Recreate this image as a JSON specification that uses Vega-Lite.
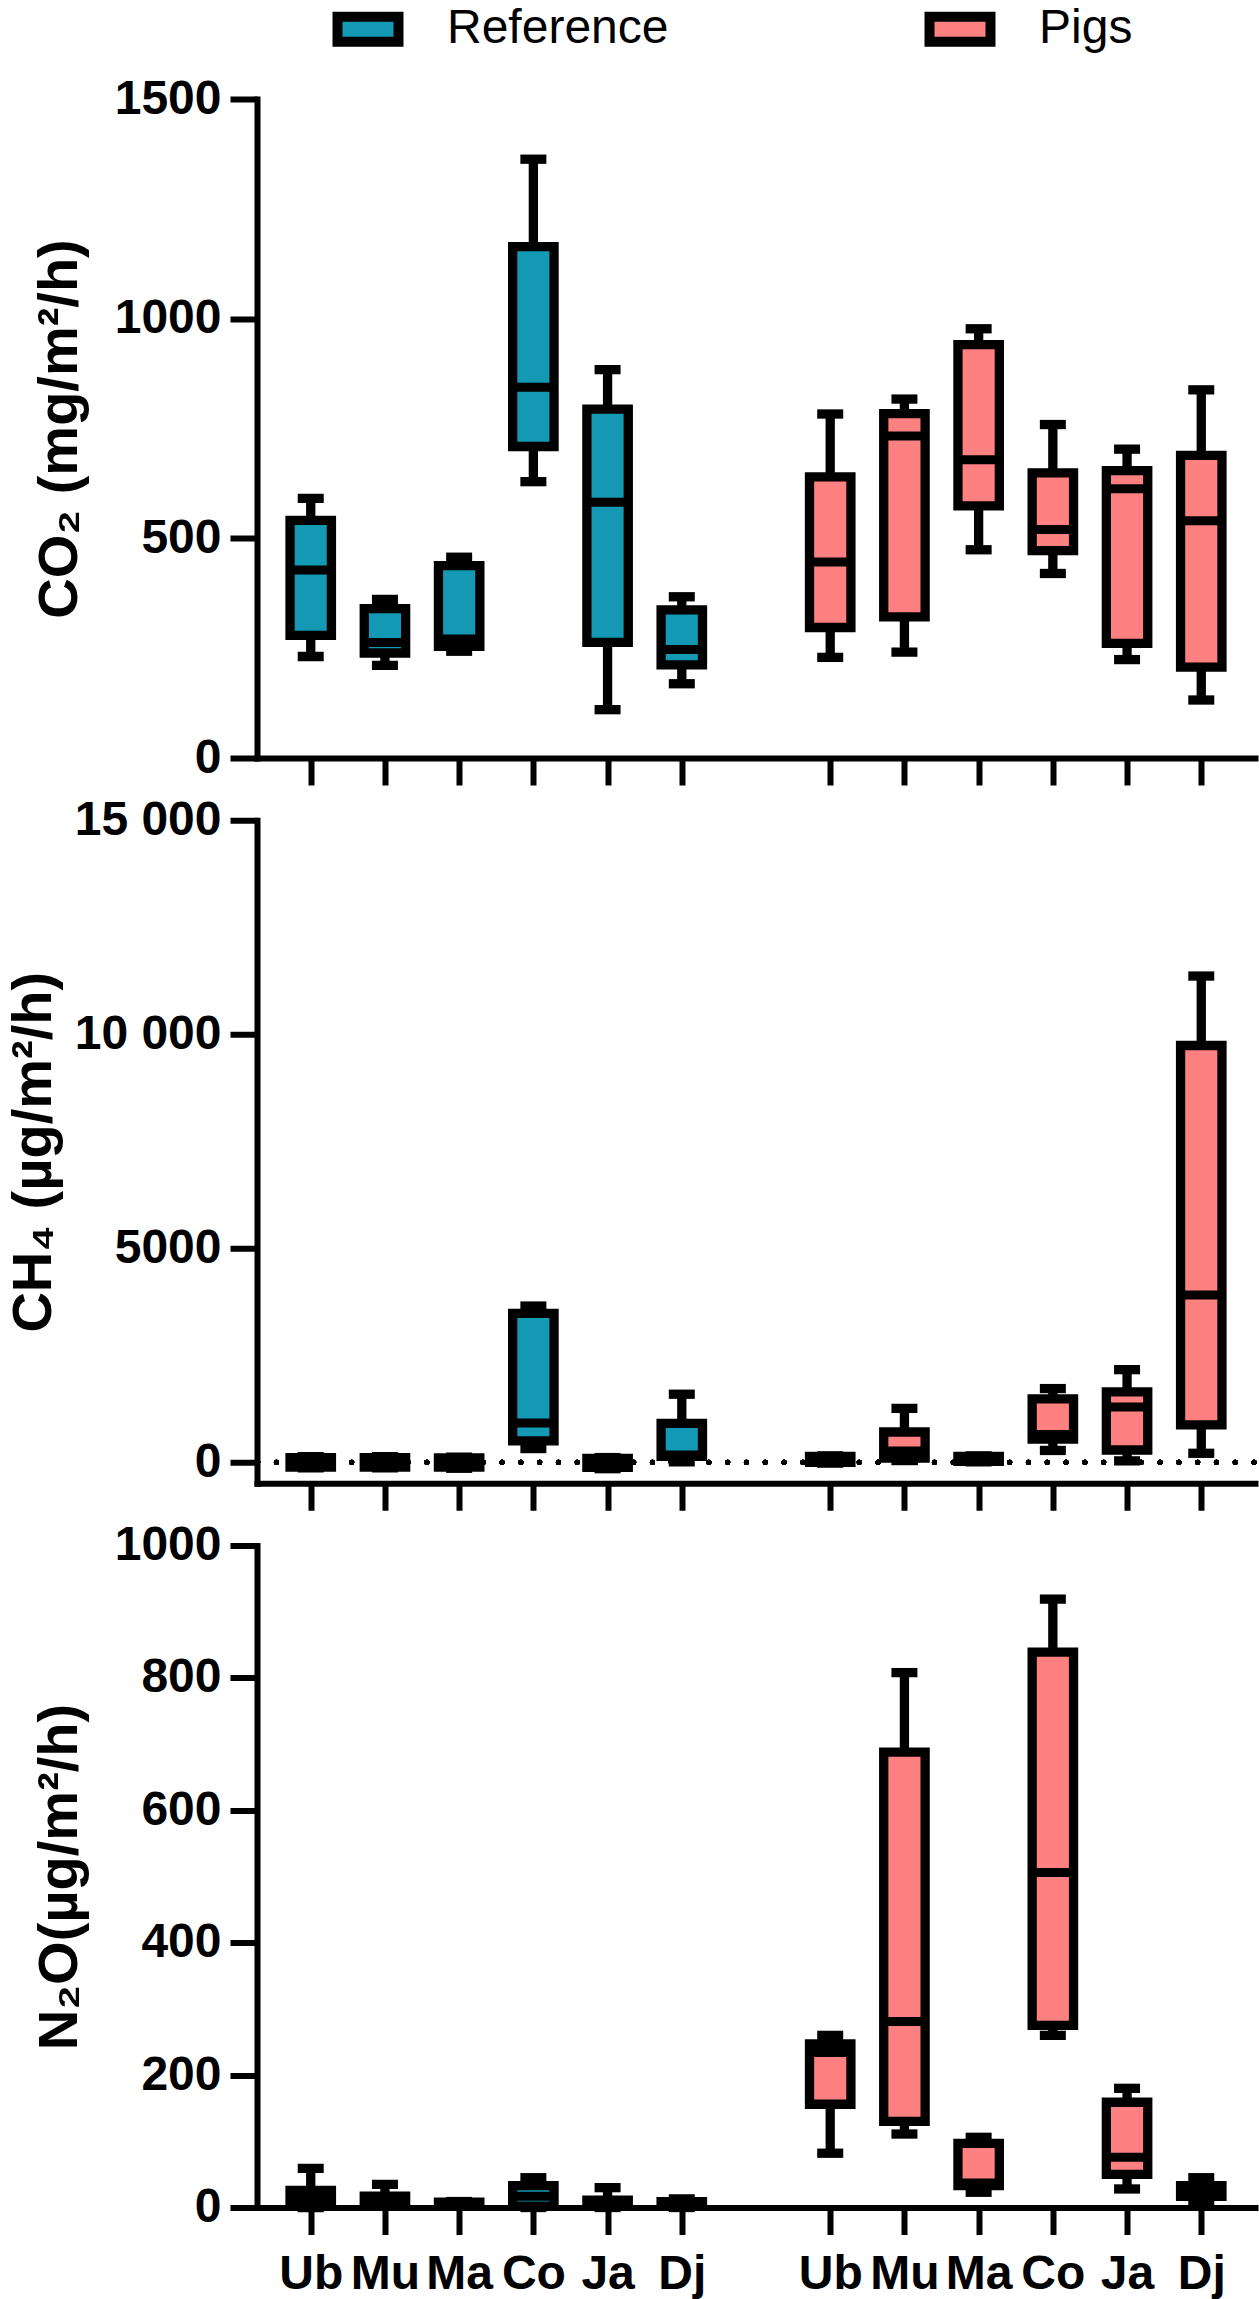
{
  "$schema": "https://vega.github.io/schema/vega-lite/v6.json",
  "padding": {"left": 5, "top": 5, "right": 2, "bottom": 5},
  "data": {
    "values": [
      {"gas": "CO2", "grp": "Reference", "site": "Ub", "key": "R-Ub", "lo": 231, "q1": 279, "med": 428, "q3": 541, "hi": 591},
      {"gas": "CO2", "grp": "Reference", "site": "Mu", "key": "R-Mu", "lo": 211, "q1": 239, "med": 263, "q3": 340, "hi": 361},
      {"gas": "CO2", "grp": "Reference", "site": "Ma", "key": "R-Ma", "lo": 243, "q1": 254, "med": 271, "q3": 438, "hi": 457},
      {"gas": "CO2", "grp": "Reference", "site": "Co", "key": "R-Co", "lo": 629, "q1": 709, "med": 844, "q3": 1164, "hi": 1363},
      {"gas": "CO2", "grp": "Reference", "site": "Ja", "key": "R-Ja", "lo": 110, "q1": 263, "med": 582, "q3": 794, "hi": 884},
      {"gas": "CO2", "grp": "Reference", "site": "Dj", "key": "R-Dj", "lo": 169, "q1": 212, "med": 247, "q3": 337, "hi": 367},
      {"gas": "CO2", "grp": "Pigs", "site": "Ub", "key": "P-Ub", "lo": 229, "q1": 297, "med": 446, "q3": 640, "hi": 783},
      {"gas": "CO2", "grp": "Pigs", "site": "Mu", "key": "P-Mu", "lo": 241, "q1": 321, "med": 733, "q3": 784, "hi": 817},
      {"gas": "CO2", "grp": "Pigs", "site": "Ma", "key": "P-Ma", "lo": 474, "q1": 574, "med": 679, "q3": 941, "hi": 977},
      {"gas": "CO2", "grp": "Pigs", "site": "Co", "key": "P-Co", "lo": 420, "q1": 472, "med": 520, "q3": 649, "hi": 759},
      {"gas": "CO2", "grp": "Pigs", "site": "Ja", "key": "P-Ja", "lo": 224, "q1": 261, "med": 613, "q3": 654, "hi": 703},
      {"gas": "CO2", "grp": "Pigs", "site": "Dj", "key": "P-Dj", "lo": 132, "q1": 207, "med": 540, "q3": 689, "hi": 838},
      {"gas": "CH4", "grp": "Reference", "site": "Ub", "key": "R-Ub", "lo": -130, "q1": -110, "med": 0, "q3": 110, "hi": 130},
      {"gas": "CH4", "grp": "Reference", "site": "Mu", "key": "R-Mu", "lo": -130, "q1": -110, "med": 0, "q3": 110, "hi": 130},
      {"gas": "CH4", "grp": "Reference", "site": "Ma", "key": "R-Ma", "lo": -140, "q1": -110, "med": -10, "q3": 100, "hi": 120},
      {"gas": "CH4", "grp": "Reference", "site": "Co", "key": "R-Co", "lo": 320, "q1": 500, "med": 920, "q3": 3480, "hi": 3650},
      {"gas": "CH4", "grp": "Reference", "site": "Ja", "key": "R-Ja", "lo": -150, "q1": -120, "med": -20, "q3": 90, "hi": 110},
      {"gas": "CH4", "grp": "Reference", "site": "Dj", "key": "R-Dj", "lo": 10, "q1": 140, "med": 170, "q3": 910, "hi": 1590},
      {"gas": "CH4", "grp": "Pigs", "site": "Ub", "key": "P-Ub", "lo": -20, "q1": 0, "med": 60, "q3": 140, "hi": 150},
      {"gas": "CH4", "grp": "Pigs", "site": "Mu", "key": "P-Mu", "lo": 40, "q1": 99, "med": 265, "q3": 707, "hi": 1259},
      {"gas": "CH4", "grp": "Pigs", "site": "Ma", "key": "P-Ma", "lo": 10, "q1": 20, "med": 80, "q3": 135, "hi": 150},
      {"gas": "CH4", "grp": "Pigs", "site": "Co", "key": "P-Co", "lo": 276, "q1": 541, "med": 651, "q3": 1479, "hi": 1722},
      {"gas": "CH4", "grp": "Pigs", "site": "Ja", "key": "P-Ja", "lo": 33, "q1": 287, "med": 1292, "q3": 1645, "hi": 2164},
      {"gas": "CH4", "grp": "Pigs", "site": "Dj", "key": "P-Dj", "lo": 210, "q1": 872, "med": 3908, "q3": 9737, "hi": 11360},
      {"gas": "N2O", "grp": "Reference", "site": "Ub", "key": "R-Ub", "lo": 0, "q1": 9, "med": 15, "q3": 26, "hi": 59},
      {"gas": "N2O", "grp": "Reference", "site": "Mu", "key": "R-Mu", "lo": 2, "q1": 5, "med": 10, "q3": 17, "hi": 35},
      {"gas": "N2O", "grp": "Reference", "site": "Ma", "key": "R-Ma", "lo": 5, "q1": 6, "med": 7, "q3": 8, "hi": 9},
      {"gas": "N2O", "grp": "Reference", "site": "Co", "key": "R-Co", "lo": 0, "q1": 2, "med": 17, "q3": 33, "hi": 45},
      {"gas": "N2O", "grp": "Reference", "site": "Ja", "key": "R-Ja", "lo": 0, "q1": 2, "med": 5, "q3": 11, "hi": 30},
      {"gas": "N2O", "grp": "Reference", "site": "Dj", "key": "R-Dj", "lo": 0, "q1": 3, "med": 5, "q3": 9, "hi": 13},
      {"gas": "N2O", "grp": "Pigs", "site": "Ub", "key": "P-Ub", "lo": 82, "q1": 156, "med": 234, "q3": 247, "hi": 260},
      {"gas": "N2O", "grp": "Pigs", "site": "Mu", "key": "P-Mu", "lo": 111, "q1": 130, "med": 281, "q3": 688, "hi": 808},
      {"gas": "N2O", "grp": "Pigs", "site": "Ma", "key": "P-Ma", "lo": 23, "q1": 33, "med": 37, "q3": 97, "hi": 106},
      {"gas": "N2O", "grp": "Pigs", "site": "Co", "key": "P-Co", "lo": 260, "q1": 275, "med": 506, "q3": 839, "hi": 919},
      {"gas": "N2O", "grp": "Pigs", "site": "Ja", "key": "P-Ja", "lo": 28, "q1": 50, "med": 76, "q3": 159, "hi": 180},
      {"gas": "N2O", "grp": "Pigs", "site": "Dj", "key": "P-Dj", "lo": 8, "q1": 17, "med": 25, "q3": 33, "hi": 45}
    ]
  },
  "config": {
    "view": {"stroke": null},
    "font": "Liberation Sans",
    "axis": {
      "domainColor": "#000", "domainWidth": 6, "domainCap": "square",
      "tickColor": "#000", "tickWidth": 6, "tickSize": 27,
      "labelColor": "#000", "labelFont": "Liberation Sans", "labelFontSize": 48, "labelFontWeight": "bold", "labelPadding": 9,
      "titleColor": "#000", "titleFont": "Liberation Sans", "titleFontSize": 56, "titleFontWeight": "bold",
      "grid": false
    },
    "axisX": {"labelAngle": 0, "labelPadding": 16, "labelOverlap": false},
    "tick": {"opacity": 1},
    "bar": {"opacity": 1}
  },
  "spacing": 62.25,
  "bounds": "flush",
  "vconcat": [
    {
      "width": 998,
      "height": 659,
      "transform": [{"filter": "datum.gas === 'CO2'"}],
      "encoding": {
        "x": {
          "field": "key", "type": "nominal",
          "scale": {"type": "point", "padding": 0.724, "domain": ["R-Ub", "R-Mu", "R-Ma", "R-Co", "R-Ja", "R-Dj", "gap", "P-Ub", "P-Mu", "P-Ma", "P-Co", "P-Ja", "P-Dj"]},
          "axis": {"title": null, "labels": false, "values": ["R-Ub", "R-Mu", "R-Ma", "R-Co", "R-Ja", "R-Dj", "P-Ub", "P-Mu", "P-Ma", "P-Co", "P-Ja", "P-Dj"]}
        }
      },
      "layer": [
        {
          "mark": {"type": "rule", "color": "black", "strokeWidth": 9.3},
          "encoding": {
            "y": {"field": "lo", "type": "quantitative", "scale": {"domain": [0, 1500], "nice": false, "zero": false},
                  "axis": {"values": [0, 500, 1000, 1500], "format": "d", "title": "CO₂ (mg/m²/h)", "titlePadding": 26}},
            "y2": {"field": "hi"}
          }
        },
        {"mark": {"type": "tick", "color": "black", "size": 26, "thickness": 9.3}, "encoding": {"y": {"field": "lo", "type": "quantitative"}}},
        {"mark": {"type": "tick", "color": "black", "size": 26, "thickness": 9.3}, "encoding": {"y": {"field": "hi", "type": "quantitative"}}},
        {
          "mark": {"type": "bar", "size": 41.4, "stroke": "black", "strokeWidth": 9.3},
          "encoding": {
            "y": {"field": "q1", "type": "quantitative"},
            "y2": {"field": "q3"},
            "color": {
              "field": "grp", "type": "nominal",
              "scale": {"domain": ["Reference", "Pigs"], "range": ["#1399B3", "#FF8080"]},
              "legend": {
                "title": null, "orient": "none", "legendX": 87, "legendY": -94, "direction": "horizontal",
                "symbolType": "M-2,-0.82H2V0.82H-2Z", "symbolSize": 930, "symbolStrokeColor": "black", "symbolStrokeWidth": 10, "symbolOpacity": 1,
                "labelFont": "Liberation Sans", "labelFontSize": 48, "labelColor": "black", "labelLimit": 400, "labelOffset": 55,
                "columnPadding": 240
              }
            }
          }
        },
        {"mark": {"type": "tick", "color": "black", "size": 41.4, "thickness": 9}, "encoding": {"y": {"field": "med", "type": "quantitative"}}}
      ]
    },
    {
      "width": 998,
      "height": 663,
      "transform": [{"filter": "datum.gas === 'CH4'"}],
      "layer": [
        {
          "mark": {"type": "rule", "color": "black", "strokeWidth": 5, "strokeDash": [0.1, 18.7], "strokeDashOffset": -19.7, "strokeCap": "round"},
          "encoding": {
            "y": {"datum": 0, "type": "quantitative", "scale": {"domain": [-490, 15000], "nice": false, "zero": false}}
          }
        },
        {
          "encoding": {
            "x": {
              "field": "key", "type": "nominal",
              "scale": {"type": "point", "padding": 0.724, "domain": ["R-Ub", "R-Mu", "R-Ma", "R-Co", "R-Ja", "R-Dj", "gap", "P-Ub", "P-Mu", "P-Ma", "P-Co", "P-Ja", "P-Dj"]},
              "axis": {"title": null, "labels": false, "values": ["R-Ub", "R-Mu", "R-Ma", "R-Co", "R-Ja", "R-Dj", "P-Ub", "P-Mu", "P-Ma", "P-Co", "P-Ja", "P-Dj"]}
            }
          },
          "layer": [
            {
              "mark": {"type": "rule", "color": "black", "strokeWidth": 9.3},
              "encoding": {
                "y": {"field": "lo", "type": "quantitative", "scale": {"domain": [-490, 15000], "nice": false, "zero": false},
                      "axis": {"values": [0, 5000, 10000, 15000], "title": "CH₄ (µg/m²/h)", "titlePadding": 12,
                               "labelExpr": "datum.value >= 10000 ? replace(format(datum.value, ','), ',', ' ') : format(datum.value, 'd')"}},
                "y2": {"field": "hi"}
              }
            },
            {"mark": {"type": "tick", "color": "black", "size": 26, "thickness": 9.3}, "encoding": {"y": {"field": "lo", "type": "quantitative"}}},
            {"mark": {"type": "tick", "color": "black", "size": 26, "thickness": 9.3}, "encoding": {"y": {"field": "hi", "type": "quantitative"}}},
            {
              "mark": {"type": "bar", "size": 41.4, "stroke": "black", "strokeWidth": 9.3},
              "encoding": {
                "y": {"field": "q1", "type": "quantitative"},
                "y2": {"field": "q3"},
                "color": {"field": "grp", "type": "nominal"}
              }
            },
            {"mark": {"type": "tick", "color": "black", "size": 41.4, "thickness": 9}, "encoding": {"y": {"field": "med", "type": "quantitative"}}}
          ]
        }
      ]
    },
    {
      "width": 998,
      "height": 662,
      "transform": [{"filter": "datum.gas === 'N2O'"}],
      "encoding": {
        "x": {
          "field": "key", "type": "nominal",
          "scale": {"type": "point", "padding": 0.724, "domain": ["R-Ub", "R-Mu", "R-Ma", "R-Co", "R-Ja", "R-Dj", "gap", "P-Ub", "P-Mu", "P-Ma", "P-Co", "P-Ja", "P-Dj"]},
          "axis": {"title": null, "labelExpr": "split(datum.value, '-')[1]", "values": ["R-Ub", "R-Mu", "R-Ma", "R-Co", "R-Ja", "R-Dj", "P-Ub", "P-Mu", "P-Ma", "P-Co", "P-Ja", "P-Dj"]}
        }
      },
      "layer": [
        {
          "mark": {"type": "rule", "color": "black", "strokeWidth": 9.3},
          "encoding": {
            "y": {"field": "lo", "type": "quantitative", "scale": {"domain": [0, 1000], "nice": false, "zero": false},
                  "axis": {"values": [0, 200, 400, 600, 800, 1000], "format": "d", "title": "N₂O(µg/m²/h)", "titlePadding": 26}},
            "y2": {"field": "hi"}
          }
        },
        {"mark": {"type": "tick", "color": "black", "size": 26, "thickness": 9.3}, "encoding": {"y": {"field": "lo", "type": "quantitative"}}},
        {"mark": {"type": "tick", "color": "black", "size": 26, "thickness": 9.3}, "encoding": {"y": {"field": "hi", "type": "quantitative"}}},
        {
          "mark": {"type": "bar", "size": 41.4, "stroke": "black", "strokeWidth": 9.3},
          "encoding": {
            "y": {"field": "q1", "type": "quantitative"},
            "y2": {"field": "q3"},
            "color": {"field": "grp", "type": "nominal"}
          }
        },
        {"mark": {"type": "tick", "color": "black", "size": 41.4, "thickness": 9}, "encoding": {"y": {"field": "med", "type": "quantitative"}}}
      ]
    }
  ]
}
